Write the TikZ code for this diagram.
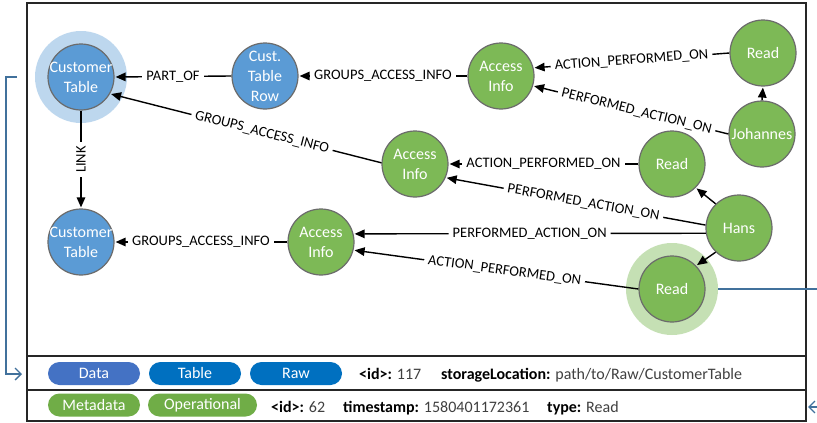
\documentclass[tikz,border=0pt]{standalone}
\usepackage{fontspec}
\setmainfont{Carlito}
\usetikzlibrary{arrows.meta}

\definecolor{nodeblue}{HTML}{5B9BD5}
\definecolor{haloblue}{HTML}{BDD7EE}
\definecolor{nodegreen}{HTML}{7DB956}
\definecolor{halogreen}{HTML}{C5E0B4}
\definecolor{rim}{HTML}{6B6B6B}
\definecolor{pillblue}{HTML}{4472C4}
\definecolor{pilldeep}{HTML}{0070C0}
\definecolor{pillgreen}{HTML}{70AD47}
\definecolor{wire}{HTML}{41719C}
\definecolor{valgray}{HTML}{404040}

\newcommand\edgefont{\fontsize{14.5}{17}\selectfont}
\newcommand\bubblefont{\fontsize{16}{20}\selectfont}

\begin{document}
\begin{tikzpicture}[x=1pt,y=-1pt,
  bubble/.style={circle, minimum size=66pt, inner sep=0pt, draw=rim, line width=1.2pt, fill=#1},
  bubbletext/.style={text=white, font=\bubblefont, align=center, inner sep=0pt},
  halo/.style={circle, minimum size=92pt, inner sep=0pt, fill=#1, draw=none},
  rel/.style={draw, line width=1.4pt, shorten >=1pt, -{Triangle[length=10pt,width=8.5pt]}},
  tag/.style={fill=white, font=\edgefont, inner xsep=4pt, inner ysep=1pt},
  slant/.style={tag, sloped},
  pill/.style={rounded corners=11.5pt, minimum width=92pt, minimum height=23pt, inner sep=0pt, fill=#1, text=white, font=\bubblefont},
  info/.style={anchor=base west, inner sep=0pt, font=\bubblefont},
  wirepath/.style={draw=wire, line width=1.3pt},
  frame/.style={draw=black!85, line width=1.2pt}]

\clip (0,0) rectangle (817,423);
\fill[white] (0,0) rectangle (817,423);

% outer frame and legend rows
\draw[frame] (27,3) rectangle (806,421);
\draw[frame] (27,356) -- (806,356);
\draw[frame] (27,390) -- (806,390);

% highlight halos
\node[halo=haloblue] (ct1h) at (81,77) {};
\node[halo=halogreen] (read3h) at (672,289) {};

% graph nodes
\node[bubble=nodeblue, label={[bubbletext]center:{Customer\\Table}}] (ct1) at (81,77) {};
\node[bubble=nodeblue, label={[bubbletext]center:{Cust.\\Table\\Row}}] (row) at (265,76) {};
\node[bubble=nodegreen, label={[bubbletext]center:{Access\\Info}}] (ai1) at (501,76) {};
\node[bubble=nodegreen, label={[bubbletext]center:{Read}}] (read1) at (763,53) {};
\node[bubble=nodegreen, label={[bubbletext]center:{Johannes}}] (joh) at (762,134) {};
\node[bubble=nodegreen, label={[bubbletext]center:{Access\\Info}}] (ai2) at (415,164) {};
\node[bubble=nodegreen, label={[bubbletext]center:{Read}}] (read2) at (672,164) {};
\node[bubble=nodegreen, label={[bubbletext]center:{Hans}}] (hans) at (739,228) {};
\node[bubble=nodegreen, label={[bubbletext]center:{Read}}] (read3) at (672,289) {};
\node[bubble=nodegreen, label={[bubbletext]center:{Access\\Info}}] (ai3) at (321,242) {};
\node[bubble=nodeblue, label={[bubbletext]center:{Customer\\Table}}] (ct2) at (81,242) {};

% relationships
\draw[rel] (row.west) -- node[tag]{PART\_OF} (ct1.east);
\draw[rel] (ai1.west) -- node[tag]{GROUPS\_ACCESS\_INFO} (row.east);
\draw[rel] (read1.west) -- node[slant]{ACTION\_PERFORMED\_ON} (ai1.14);
\draw[rel] (joh.west) -- node[slant,pos=0.47]{PERFORMED\_ACTION\_ON} (ai1.-17);
\draw[rel] (joh.north) -- (read1.south);
\draw[rel] (ai2.178) -- node[slant,pos=0.44]{GROUPS\_ACCESS\_INFO} (ct1.-30);
\draw[rel] (read2.west) -- node[tag]{ACTION\_PERFORMED\_ON} (ai2.east);
\draw[rel] (hans.175) -- node[slant,pos=0.47]{PERFORMED\_ACTION\_ON} (ai2.-24);
\draw[rel] (hans.134) -- (read2.-45);
\draw[rel] (hans.-171) -- node[slant]{PERFORMED\_ACTION\_ON} (ai3.14);
\draw[rel] (read3.west) -- node[slant,pos=0.47]{ACTION\_PERFORMED\_ON} (ai3.-14);
\draw[rel] (hans.-134) -- (read3.44);
\draw[rel] (ai3.west) -- node[tag]{GROUPS\_ACCESS\_INFO} (ct2.east);
\draw[rel] (ct1.south) -- node[tag, rotate=90]{LINK} (ct2.north);

% legend, first row
\node[pill=pillblue] (pdata) at (94,373.5) {Data};
\node[pill=pilldeep] (ptable) at (195,373.5) {Table};
\node[pill=pilldeep] (praw) at (296,373.5) {Raw};
\node[info] (id1) at (359,379) {\textbf{<id>:} \textcolor{valgray}{117}};
\node[info] (loc1) at (441,379) {\textbf{storageLocation:} \textcolor{valgray}{path/to/Raw/CustomerTable}};

% legend, second row
\node[pill=pillgreen] (pmeta) at (94,405) {Metadata};
\node[pill=pillgreen, minimum width=109pt] (poper) at (202.5,405) {Operational};
\node[info] (id2) at (271,412) {\textbf{<id>:} \textcolor{valgray}{62}};
\node[info] (ts2) at (343,412) {\textbf{timestamp:} \textcolor{valgray}{1580401172361}};
\node[info] (ty2) at (547,412) {\textbf{type:} \textcolor{valgray}{Read}};

% links from the graph to the legend rows
\coordinate (lstart) at (17,77);
\coordinate (lend) at (22,374);
\draw[wirepath, -{Straight Barb[length=6pt,width=12pt]}] (lstart) -- ++(-11,0) |- (lend);
\coordinate (rturn) at (830,289);
\coordinate (rend) at (808,407);
\draw[wirepath, -{Straight Barb[length=6pt,width=12pt]}] (read3h.east) -- (rturn) |- (rend);

\end{tikzpicture}
\end{document}
